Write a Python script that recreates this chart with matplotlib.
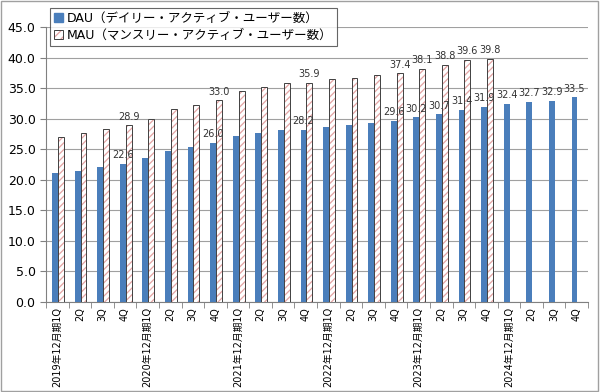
import numpy as np
import matplotlib.pyplot as plt
from matplotlib.patches import Rectangle, Patch
from matplotlib.legend_handler import HandlerTuple

plt.rcParams['font.family'] = ['DejaVu Sans', 'Noto Sans CJK JP']
plt.rcParams['hatch.linewidth'] = 0.9

# 四半期ラベル
quarters = ['2019年12月期1Q', '2Q', '3Q', '4Q',
            '2020年12月期1Q', '2Q', '3Q', '4Q',
            '2021年12月期1Q', '2Q', '3Q', '4Q',
            '2022年12月期1Q', '2Q', '3Q', '4Q',
            '2023年12月期1Q', '2Q', '3Q', '4Q',
            '2024年12月期1Q', '2Q', '3Q', '4Q']

# DAU / MAU（百万人）
dau = [21.0, 21.4, 22.0, 22.6, 23.6, 24.7, 25.4, 26.0,
       27.2, 27.6, 28.1, 28.2, 28.7, 28.9, 29.3, 29.6,
       30.2, 30.7, 31.4, 31.9, 32.4, 32.7, 32.9, 33.5]
mau = [26.9, 27.6, 28.3, 28.9, 29.9, 31.5, 32.2, 33.0,
       34.5, 35.2, 35.8, 35.9, 36.5, 36.7, 37.2, 37.4,
       38.1, 38.8, 39.6, 39.8]

# ラベルを表示する四半期
dau_labeled = [3, 7, 11, 15, 16, 17, 18, 19, 20, 21, 22, 23]
mau_labeled = [3, 7, 11, 15, 16, 17, 18, 19]

fig = plt.figure(figsize=(6, 3.92), dpi=100)
ax = fig.add_axes([0.0767, 0.2305, 0.9033, 0.7005])

x = np.arange(len(quarters))
w = 0.26
x_dau = x - 0.1
x_mau = x[:len(mau)] + 0.16
dau_col = '#4a7ebb'
hatch_col = '#e3a3a3'

ax.bar(x_dau, dau, w, color=dau_col, zorder=3)
# 斜線（ピンク）と枠線（黒）を別々に描く
ax.bar(x_mau, mau, w, color='white', edgecolor=hatch_col, linewidth=0,
       hatch='/////', zorder=3)
ax.bar(x_mau, mau, w, fill=False, edgecolor='#404040', linewidth=0.7, zorder=3)

for i in dau_labeled:
    ax.text(x_dau[i], dau[i] + 0.6, f'{dau[i]:.1f}', ha='center', va='bottom',
            fontsize=7, color='#333333', zorder=4)
for i in mau_labeled:
    ax.text(x_mau[i], mau[i] + 0.6, f'{mau[i]:.1f}', ha='center', va='bottom',
            fontsize=7, color='#333333', zorder=4)

ax.set_xlim(-0.5, len(quarters) - 0.5)
ax.set_ylim(0, 45)
ax.set_yticks(np.arange(0, 46, 5))
ax.set_yticklabels([f'{v:.1f}' for v in np.arange(0, 46, 5)], fontsize=9)
ax.yaxis.grid(True, color='#a0a0a0', linewidth=0.8, zorder=0)

ax.set_xticks(x)
ax.set_xticklabels(quarters, rotation=90, fontsize=7)
ax.tick_params(axis='x', length=0, pad=4)
ax.set_xticks(np.arange(-0.5, len(quarters)), minor=True)
ax.tick_params(axis='x', which='minor', length=4, color='#808080')
ax.tick_params(axis='y', length=4, color='#808080')

for s in ['top', 'right']:
    ax.spines[s].set_visible(False)
ax.spines['left'].set_color('#808080')
ax.spines['bottom'].set_color('#808080')

# 凡例
h_dau = Patch(facecolor=dau_col, edgecolor=dau_col)
h_mau = (Patch(facecolor='white', edgecolor=hatch_col, hatch='////', linewidth=0),
         Patch(fill=False, edgecolor='#404040', linewidth=0.7))
labels = ['DAU（デイリー・アクティブ・ユーザー数）', 'MAU（マンスリー・アクティブ・ユーザー数）']
leg = ax.legend([h_dau, h_mau], labels, loc='upper left', bbox_to_anchor=(0.083, 0.98),
                bbox_transform=fig.transFigure, fontsize=9, frameon=True,
                fancybox=False, edgecolor='#404040', handlelength=0.7,
                handleheight=0.7, handletextpad=0.3, borderpad=0.35,
                labelspacing=0.3, borderaxespad=0,
                handler_map={tuple: HandlerTuple(ndivide=1, pad=0)})
leg.get_frame().set_linewidth(0.8)

fig.patches.append(Rectangle((0.002, 0.003), 0.995, 0.994, transform=fig.transFigure,
                             fill=False, edgecolor='#a0a0a0', linewidth=1))

fig.savefig('out.png', dpi=100)
